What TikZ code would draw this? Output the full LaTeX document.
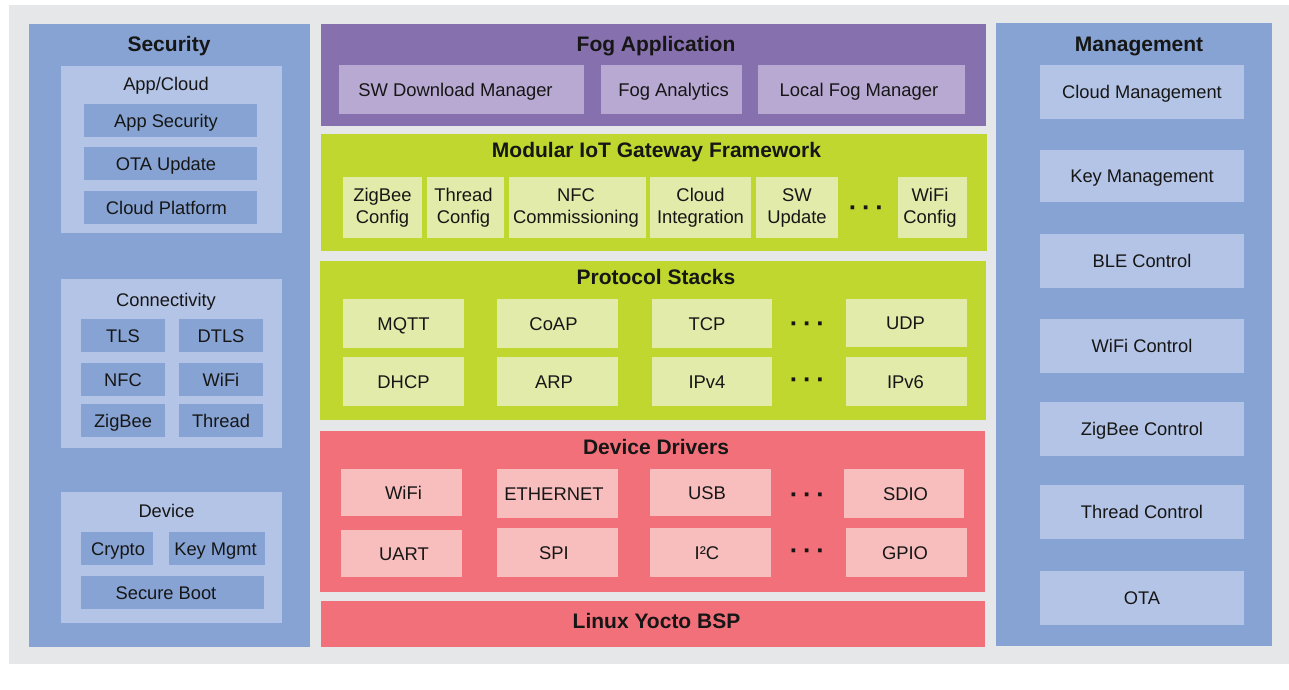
\documentclass[tikz,border=0pt]{standalone}
\usepackage{fontspec}
\setmainfont{Liberation Sans}
\definecolor{bggray}{HTML}{E6E7E9}
\definecolor{pblue}{HTML}{87A3D3}
\definecolor{lblue}{HTML}{B4C4E6}
\definecolor{ppurple}{HTML}{8670AE}
\definecolor{lpurple}{HTML}{B8A9D2}
\definecolor{pgreen}{HTML}{C0D72F}
\definecolor{lgreen}{HTML}{E2EBA9}
\definecolor{pred}{HTML}{F2707A}
\definecolor{lpink}{HTML}{F8BDBD}
\definecolor{txt}{HTML}{161616}
\newcommand\bx[7]{\node[#2, minimum width={(#5)-(#3)}, minimum height={(#6)-(#4)}] (#1) at ({((#3)+(#5))/2},{-((#4)+(#6))/2}) {#7};}
\begin{document}
\begin{tikzpicture}[x=1pt,y=1pt,
  every node/.style={inner sep=0pt, outer sep=0pt, text=txt, align=center},
  body/.style={font=\fontsize{18.3}{22}\selectfont, text height=13.1pt, text depth=0pt},
  mbody/.style={font=\fontsize{18.4}{22}\selectfont, text height=13.2pt, text depth=0pt},
  mbody2/.style={font=\fontsize{18.4}{22}\selectfont},
  ttl/.style={font=\bfseries\fontsize{21}{25}\selectfont, text height=15pt, text depth=0pt},
  dotsym/.style={font=\bfseries\fontsize{26}{26}\selectfont, text height=17.2pt, text depth=0pt},
  sbox/.style={fill=pblue, body},
  mbox/.style={fill=lblue, body},
  fbox/.style={fill=lpurple, mbody},
  gbox/.style={fill=lgreen, mbody},
  gboxm/.style={fill=lgreen, mbody2},
  rbox/.style={fill=lpink, mbody}]
\fill[white] (0,0) rectangle (1289,-689);
\useasboundingbox (0,0) rectangle (1289,-689);
\bx{bg}{fill=bggray}{9}{5}{1289}{664}{}
% Security
\bx{sec}{fill=pblue}{29}{24}{310}{647}{}
\node[ttl] (sect) at (169,-43.5) {Security};
\bx{appc}{fill=lblue}{61}{66}{282}{233}{}
\node[body] (appct) at (166,-83.5) {App/Cloud};
\bx{appsec}{sbox}{84}{104}{257}{137}{App Security\kern9pt}
\bx{otau}{sbox}{84}{147}{257}{180}{OTA Update\kern9pt}
\bx{cloudp}{sbox}{84}{191}{257}{224}{Cloud Platform\kern8pt}
\bx{conn}{fill=lblue}{61}{279}{282}{448}{}
\node[body] (connt) at (166,-300) {Connectivity};
\bx{tls}{sbox}{81}{319}{165}{352}{TLS}
\bx{dtls}{sbox}{179}{319}{263}{352}{DTLS}
\bx{nfc}{sbox}{81}{363}{165}{396}{NFC}
\bx{wifi}{sbox}{179}{363}{263}{396}{WiFi}
\bx{zig}{sbox}{81}{404}{165}{437}{ZigBee}
\bx{thr}{sbox}{179}{404}{263}{437}{Thread}
\bx{dev}{fill=lblue}{61}{492}{282}{623}{}
\node[body] (devt) at (166.5,-510.5) {Device};
\bx{crypto}{sbox}{81}{532}{153}{565}{\kern2pt Crypto}
\bx{keym}{sbox}{169}{532}{265}{565}{Key Mgmt\kern3pt}
\bx{sboot}{sbox}{81}{576}{264}{609}{Secure Boot\kern13pt}
% Fog Application
\bx{fog}{fill=ppurple}{321}{24}{986}{126}{}
\node[ttl] (fogt) at (656,-43.5) {Fog Application};
\bx{swdl}{fbox}{339}{65}{584}{114}{SW Download Manager\kern12pt}
\bx{foga}{fbox}{601}{65}{742}{114}{\kern4pt Fog Analytics}
\bx{lfm}{fbox}{758}{65}{965}{114}{Local Fog Manager\kern5pt}
% Modular IoT Gateway Framework
\bx{mod}{fill=pgreen}{321}{134}{987}{251}{}
\node[ttl] (modt) at (656.5,-150) {Modular IoT Gateway Framework};
\bx{zc}{gboxm}{343}{177}{422}{238}{ZigBee\\Config}
\bx{tc}{gboxm}{427}{177}{504}{238}{Thread\kern4pt\\Config\kern4pt}
\bx{nc}{gboxm}{509}{177}{646}{238}{NFC\kern3pt\\Commissioning\kern3pt}
\bx{ci}{gboxm}{650}{177}{751}{238}{Cloud\\Integration}
\bx{su}{gboxm}{756}{177}{838}{238}{SW\\Update}
\node[dotsym] (md) at (866.5,-208) {·\hspace{4.6pt}·\hspace{4.6pt}·};
\bx{wc}{gboxm}{898}{177}{967}{238}{WiFi\kern5pt\\Config\kern5pt}
% Protocol Stacks
\bx{ps}{fill=pgreen}{320}{261}{986}{420}{}
\node[ttl] (pst) at (656,-276.7) {Protocol Stacks};
\bx{mqtt}{gbox}{343}{299}{464}{348}{MQTT}
\bx{coap}{gbox}{497}{299}{618}{348}{CoAP\kern8pt}
\bx{tcp}{gbox}{652}{299}{772}{348}{TCP\kern10pt}
\node[dotsym] (pd1) at (807.5,-324) {·\hspace{4.6pt}·\hspace{4.6pt}·};
\bx{udp}{gbox}{846}{299}{967}{347}{UDP\kern2pt}
\bx{dhcp}{gbox}{343}{357}{464}{406}{DHCP}
\bx{arp}{gbox}{497}{357}{618}{406}{ARP\kern7pt}
\bx{ipv4}{gbox}{652}{357}{772}{406}{IPv4\kern10pt}
\node[dotsym] (pd2) at (807.5,-380) {·\hspace{4.6pt}·\hspace{4.6pt}·};
\bx{ipv6}{gbox}{846}{357}{967}{406}{IPv6\kern2pt}
% Device Drivers
\bx{dd}{fill=pred}{320}{431}{985}{592}{}
\node[ttl] (ddt) at (656,-446.7) {Device Drivers};
\bx{dwifi}{rbox}{341}{469}{462}{516}{\kern4pt WiFi}
\bx{eth}{rbox}{497}{469}{618}{518}{ETHERNET\kern7pt}
\bx{usb}{rbox}{650}{469}{771}{516}{USB\kern7pt}
\node[dotsym] (dd1) at (807.5,-495) {·\hspace{4.6pt}·\hspace{4.6pt}·};
\bx{sdio}{rbox}{844}{469}{964}{518}{\kern3pt SDIO}
\bx{uart}{rbox}{341}{530}{462}{577}{\kern5pt UART}
\bx{spi}{rbox}{497}{528}{618}{577}{SPI\kern7pt}
\bx{i2c}{rbox}{650}{528}{771}{577}{I²C\kern7pt}
\node[dotsym] (dd2) at (807.5,-551) {·\hspace{4.6pt}·\hspace{4.6pt}·};
\bx{gpio}{rbox}{846}{528}{967}{577}{GPIO\kern3pt}
% Linux
\bx{lin}{fill=pred}{321}{601}{985}{647}{}
\node[ttl] (lint) at (656.5,-621) {Linux Yocto BSP};
% Management
\bx{mgmt}{fill=pblue}{996}{23}{1272}{646}{}
\node[ttl] (mgmtt) at (1139,-43.5) {Management};
\bx{cm}{mbox}{1040}{65}{1244}{119}{Cloud Management}
\bx{km}{mbox}{1040}{150}{1244}{202}{Key Management}
\bx{ble}{mbox}{1040}{234}{1244}{288}{BLE Control}
\bx{wfc}{mbox}{1040}{319}{1244}{373}{WiFi Control}
\bx{zbc}{mbox}{1040}{402}{1244}{456}{ZigBee Control}
\bx{thc}{mbox}{1040}{485}{1244}{539}{Thread Control}
\bx{ota}{mbox}{1040}{571}{1244}{625}{OTA}
\end{tikzpicture}
\end{document}
